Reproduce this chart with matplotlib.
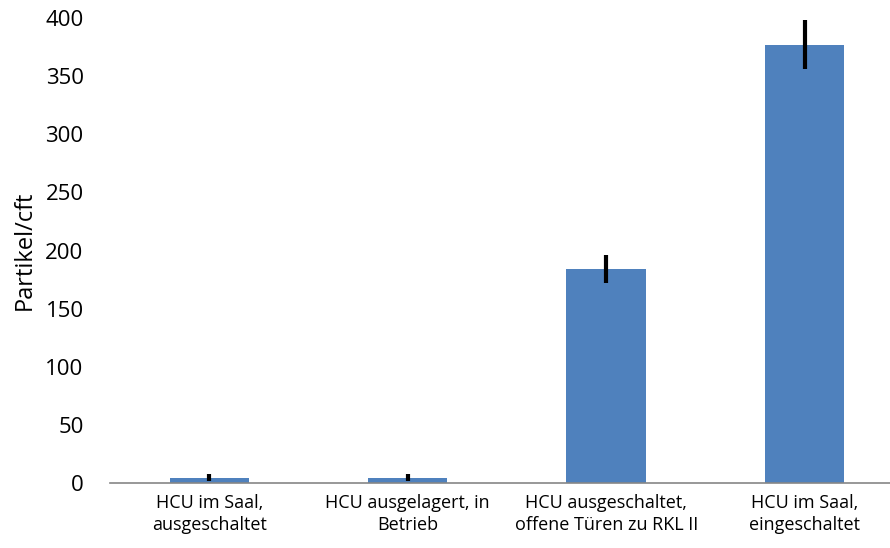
import matplotlib.pyplot as plt

categories = ["HCU im Saal,\nausgeschaltet",
              "HCU ausgelagert, in\nBetrieb",
              "HCU ausgeschaltet,\noffene Türen zu RKL II",
              "HCU im Saal,\neingeschaltet"]
values = [4.5, 4.5, 184, 377]
errors = [3, 3, 12, 21]

plt.rcParams['font.family'] = ['Open Sans', 'DejaVu Sans']

fig = plt.figure(figsize=(8.9, 5.48), dpi=100)
ax = fig.add_axes([0.1236, 0.1186, 0.8764, 0.8485])

x = range(len(values))
ax.bar(x, values, width=0.40, color='#4F81BD', zorder=2)
ax.errorbar(x, values, yerr=errors, fmt='none', ecolor='black',
            elinewidth=3, capsize=0, zorder=3)

ax.set_ylim(0, 400)
ax.set_xlim(-0.5, 3.43)
ax.set_yticks(range(0, 401, 50))
ax.set_xticks(list(x))
ax.set_xticklabels(categories, fontsize=13, linespacing=1.25)
ax.tick_params(axis='y', labelsize=16, length=0, pad=19)
ax.tick_params(axis='x', length=0, pad=8)

for s in ['top', 'right', 'left']:
    ax.spines[s].set_visible(False)
ax.spines['bottom'].set_color('#868686')
ax.spines['bottom'].set_linewidth(1.2)

ax.set_ylabel('Partikel/cft', fontsize=17, labelpad=6)

fig.savefig('out.png', dpi=100)
